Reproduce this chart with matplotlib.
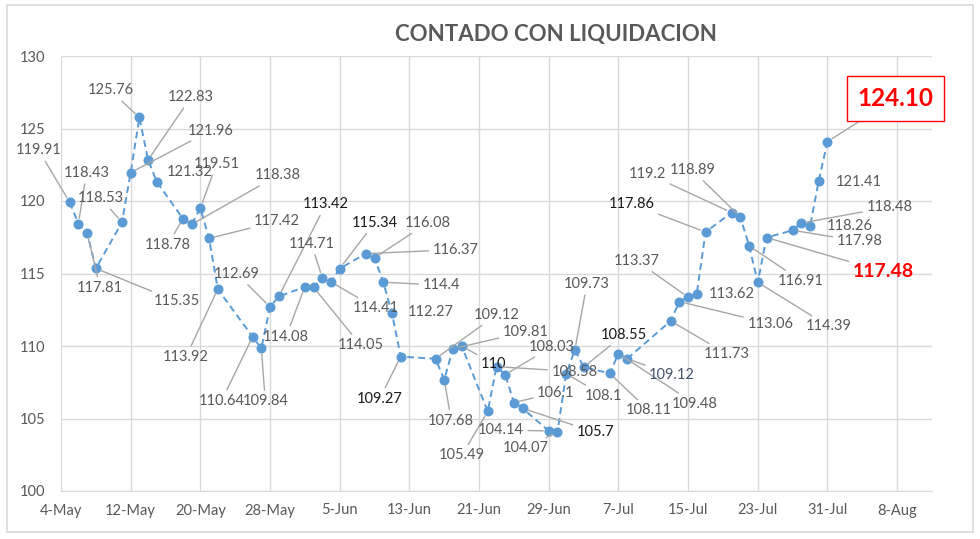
import numpy as np
import pandas as pd
import matplotlib
matplotlib.use("Agg")
import matplotlib.pyplot as plt
import matplotlib.dates as mdates
from matplotlib.patches import Rectangle

# --- data ---
dates = [
    "2020-05-05", "2020-05-06", "2020-05-07", "2020-05-08", "2020-05-11",
    "2020-05-12", "2020-05-13", "2020-05-14", "2020-05-15", "2020-05-18",
    "2020-05-19", "2020-05-20", "2020-05-21", "2020-05-22", "2020-05-26",
    "2020-05-27", "2020-05-28", "2020-05-29", "2020-06-01", "2020-06-02",
    "2020-06-03", "2020-06-04", "2020-06-05", "2020-06-08", "2020-06-09",
    "2020-06-10", "2020-06-11", "2020-06-12", "2020-06-16", "2020-06-17",
    "2020-06-18", "2020-06-19", "2020-06-22", "2020-06-23", "2020-06-24",
    "2020-06-25", "2020-06-26", "2020-06-29", "2020-06-30", "2020-07-01",
    "2020-07-02", "2020-07-03", "2020-07-06", "2020-07-07", "2020-07-08",
    "2020-07-13", "2020-07-14", "2020-07-15", "2020-07-16", "2020-07-17",
    "2020-07-20", "2020-07-21", "2020-07-22", "2020-07-23", "2020-07-24",
    "2020-07-27", "2020-07-28", "2020-07-29", "2020-07-30", "2020-07-31",
]
values = [
    119.91, 118.43, 117.81, 115.35, 118.53,
    121.96, 125.76, 122.83, 121.32, 118.78,
    118.38, 119.51, 117.42, 113.92, 110.64,
    109.84, 112.69, 113.42, 114.08, 114.05,
    114.71, 114.41, 115.34, 116.37, 116.08,
    114.40, 112.27, 109.27, 109.12, 107.68,
    109.81, 110.00, 105.49, 108.58, 108.03,
    106.10, 105.70, 104.14, 104.07, 108.10,
    109.73, 108.55, 108.11, 109.48, 109.12,
    111.73, 113.06, 113.37, 113.62, 117.86,
    119.20, 118.89, 116.91, 114.39, 117.48,
    117.98, 118.48, 118.26, 121.41, 124.10,
]

# label placement: offset of the label centre from its point, in pixels (x right, y up)
label_offsets = [
    (-31, 52), (8, 51), (13, -55), (81, -33), (-21, 24),
    (80, 42), (-29, 27), (43, 63), (33, 10), (-15, -26),
    (86, 49), (16, 44), (68, 17), (-32, -68), (-31, -64),
    (4, -53), (-33, 33), (47, 92), (-19, -50), (47, -58),
    (-11, 34), (45, -26), (35, 46), (90, 4), (53, 35),
    (58, -3), (39, 1), (-21, -42), (61, 44), (7, -41),
    (73, 17), (32, -18), (-26, -44), (78, -5), (47, 28),
    (42, 10), (73, -24), (-48, 1), (-32, -16), (37, -22),
    (12, 66), (40, 32), (39, -37), (76, -50), (45, -16),
    (56, -33), (91, -22), (-51, 36), (35, 0), (-74, 28),
    (-84, 39), (-48, 47), (52, -35), (71, -44), (117, -34),
    (67, -11), (88, 16), (40, 0), (40, -1), (68, 43),
]
no_leader = {"2020-05-15", "2020-06-11", "2020-07-16", "2020-07-29", "2020-07-30"}
dark_labels = {"2020-05-29", "2020-06-05", "2020-06-12", "2020-06-19",
               "2020-06-26", "2020-07-03", "2020-07-17"}

plt.rcParams["font.family"] = ["Lato", "DejaVu Sans"]

x = pd.to_datetime(dates)
fig = plt.figure(figsize=(9.8, 5.39), dpi=100)
ax = fig.add_axes([61 / 980, 48 / 539, 871 / 980, 435 / 539])

# chart border
fig.patches.append(Rectangle((7 / 980, 7 / 539), 966 / 980, 527 / 539,
                             transform=fig.transFigure, fill=False,
                             edgecolor="#d9d9d9", linewidth=1.2))

blue = "#5b9bd5"
ax.plot(x, values, color=blue, linewidth=1.4, linestyle=(0, (3.5, 2.2)),
        marker="o", markersize=6.2, markerfacecolor=blue, markeredgecolor=blue,
        zorder=3)

# data labels with leader lines
for d, xv, v, (dx, dy) in zip(dates, x, values, label_offsets):
    txt = f"{v:g}"
    color, size, weight, box = "#595959", 10.5, "normal", None
    if d in dark_labels:
        color = "#1a1a1a"
    if d == "2020-07-08":
        color = "#44546a"
    if d == "2020-07-24":
        color, size, weight = "#ff0000", 14, "bold"
    if d == "2020-07-31":
        txt = f"{v:.2f}"
        color, size, weight = "#ff0000", 17.5, "bold"
        box = dict(boxstyle="square,pad=0.45", facecolor="white",
                   edgecolor="#ff0000", linewidth=1)
    arrow = None
    if d not in no_leader:
        arrow = dict(arrowstyle="-", color="#a6a6a6", linewidth=1,
                     shrinkA=1, shrinkB=4)
    ax.annotate(txt, xy=(xv, v), xytext=(dx, dy), textcoords="offset pixels",
                ha="center", va="center", fontsize=size, color=color,
                fontweight=weight, bbox=box, arrowprops=arrow, zorder=4)

# axes
start = pd.Timestamp("2020-05-04")
ax.set_xlim(start, start + pd.Timedelta(days=100))
ax.set_ylim(100, 130)
ax.set_yticks(np.arange(100, 131, 5))
ticks = [start + pd.Timedelta(days=8 * i) for i in range(13)]
ax.set_xticks(ticks)
ax.set_xticklabels([f"{t.day}-{t.strftime('%b')}" for t in ticks])
ax.grid(True, color="#d9d9d9", linewidth=1)
ax.set_axisbelow(True)
for side in ["left", "right", "top"]:
    ax.spines[side].set_visible(False)
ax.spines["bottom"].set_color("#d9d9d9")
ax.tick_params(axis="both", length=0, labelsize=10.5, colors="#595959")
ax.tick_params(axis="y", pad=11)
ax.tick_params(axis="x", pad=9)

fig.text(556 / 980, 1 - 35 / 539, "CONTADO CON LIQUIDACION", ha="center",
         va="center", fontsize=16, fontweight="bold", color="#595959")

fig.savefig("out.png", dpi=100)
